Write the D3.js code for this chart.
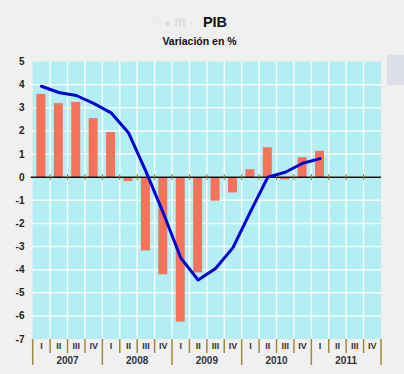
<head>
	<meta charset="utf-8">
	<script src="https://d3js.org/d3.v7.min.js"></script>
	<style>
		body {
			margin: 0;
			background: #f0f0f0;
		}
		svg text {
			font-family: Arial, "Liberation Sans", sans-serif;
			font-weight: bold;
		}
	</style>
</head>
<body>

<svg width="404" height="374" id="chart"></svg>

<script>

	var years = ["2007", "2008", "2009", "2010", "2011"];
	var quarters = ["I", "II", "III", "IV"];
	var yTicks = [5, 4, 3, 2, 1, 0, -1, -2, -3, -4, -5, -6, -7];

	// variación trimestral (barras)
	var barValues = [3.6, 3.2, 3.25, 2.55, 1.95, -0.17, -3.17, -4.2, -6.25, -4.12, -1.02, -0.66, 0.34, 1.29, -0.1, 0.86, 1.14];
	// variación interanual (línea)
	var lineValues = [3.93, 3.66, 3.53, 3.19, 2.78, 1.92, 0.25, -1.55, -3.49, -4.45, -3.95, -3.05, -1.5, 0.0, 0.21, 0.6, 0.8];

	var periods = [];
	years.forEach(y => quarters.forEach(q => periods.push(y + "-" + q)));

	var svg = d3.select("#chart");

	var x = d3.scaleBand()
		.domain(periods)
		.range([32.7, 381]);

	var y = d3.scaleLinear()
		.domain([-7, 5])
		.range([339, 61.5]);

	// fondo del gráfico
	svg.append("rect")
		.attr("x", x.range()[0])
		.attr("y", y(5))
		.attr("width", x.range()[1] - x.range()[0])
		.attr("height", y(-7) - y(5))
		.attr("fill", "#b3eff2");

	// mancha gris del logo a la derecha
	svg.append("rect")
		.attr("x", 387)
		.attr("y", 55)
		.attr("width", 17)
		.attr("height", 30)
		.attr("fill", "#dcdee9");

	// rejilla
	svg.append("g").selectAll("line")
		.data(yTicks.filter(d => d > -7 && d < 5))
		.enter().append("line")
		.attr("x1", x.range()[0])
		.attr("x2", x.range()[1])
		.attr("y1", d => y(d))
		.attr("y2", d => y(d))
		.attr("stroke", "#fff")
		.attr("stroke-opacity", 0.85)
		.attr("stroke-width", 1.5);

	svg.append("g").selectAll("line")
		.data(periods.slice(1))
		.enter().append("line")
		.attr("x1", d => x(d))
		.attr("x2", d => x(d))
		.attr("y1", y(5))
		.attr("y2", y(-7))
		.attr("stroke", "#fff")
		.attr("stroke-opacity", 0.85)
		.attr("stroke-width", 1.5);

	// barras
	svg.append("g").selectAll("rect")
		.data(barValues)
		.enter().append("rect")
		.attr("x", (d, i) => x(periods[i]) + x.bandwidth() / 2 - 5)
		.attr("width", 9)
		.attr("y", d => y(Math.max(0, d)))
		.attr("height", d => Math.abs(y(d) - y(0)))
		.attr("fill", "#f4735a");

	// eje cero
	svg.append("line")
		.attr("x1", x.range()[0] - 2)
		.attr("x2", x.range()[1])
		.attr("y1", y(0))
		.attr("y2", y(0))
		.attr("stroke", "#111")
		.attr("stroke-width", 1.5);

	svg.append("g").selectAll("line")
		.data(periods.slice(1))
		.enter().append("line")
		.attr("x1", d => x(d))
		.attr("x2", d => x(d))
		.attr("y1", y(0) - 3)
		.attr("y2", y(0) + 3)
		.attr("stroke", "#7d7a30")
		.attr("stroke-width", 1);

	// línea
	var line = d3.line()
		.x((d, i) => x(periods[i]) + x.bandwidth() / 2)
		.y(d => y(d));

	svg.append("path")
		.datum(lineValues)
		.attr("d", line)
		.attr("fill", "none")
		.attr("stroke", "#0000d8")
		.attr("stroke-width", 3)
		.attr("stroke-linejoin", "round")
		.attr("stroke-linecap", "round");

	// eje y
	svg.append("g").selectAll("text")
		.data(yTicks)
		.enter().append("text")
		.attr("x", 24.5)
		.attr("y", d => y(d) + 3.5)
		.attr("text-anchor", "end")
		.attr("font-size", 10)
		.attr("fill", "#222")
		.text(d => d);

	// eje x: trimestres y años
	var xAxis = svg.append("g");

	xAxis.selectAll(".qtick")
		.data(periods.concat(["end"]))
		.enter().append("line")
		.attr("x1", (d, i) => x.range()[0] + i * x.step())
		.attr("x2", (d, i) => x.range()[0] + i * x.step())
		.attr("y1", y(-7))
		.attr("y2", (d, i) => i % 4 == 0 ? 365 : 353)
		.attr("stroke", "#9a8c3a")
		.attr("stroke-width", 1.5);

	xAxis.selectAll(".qlabel")
		.data(periods)
		.enter().append("text")
		.attr("x", d => x(d) + x.bandwidth() / 2)
		.attr("y", 348.5)
		.attr("text-anchor", "middle")
		.attr("font-size", 9)
		.attr("fill", "#333")
		.text(d => d.split("-")[1]);

	xAxis.selectAll(".ylabel")
		.data(years)
		.enter().append("text")
		.attr("x", d => x(d + "-II") + x.bandwidth())
		.attr("y", 364)
		.attr("text-anchor", "middle")
		.attr("font-size", 10)
		.attr("fill", "#333")
		.text(d => d);

	// títulos
	svg.append("circle")
		.attr("cx", 157)
		.attr("cy", 21)
		.attr("r", 5)
		.attr("fill", "#ececec");

	svg.append("text")
		.attr("x", 164)
		.attr("y", 27)
		.attr("font-size", 12)
		.attr("fill", "#dcdcdc")
		.text("● ift -");

	svg.append("text")
		.attr("x", 215)
		.attr("y", 27.3)
		.attr("text-anchor", "middle")
		.attr("font-size", 14.5)
		.attr("fill", "#111")
		.text("PIB");

	svg.append("text")
		.attr("x", 199.5)
		.attr("y", 45)
		.attr("text-anchor", "middle")
		.attr("font-size", 10.5)
		.attr("fill", "#111")
		.text("Variación en %");

</script>
</body>
